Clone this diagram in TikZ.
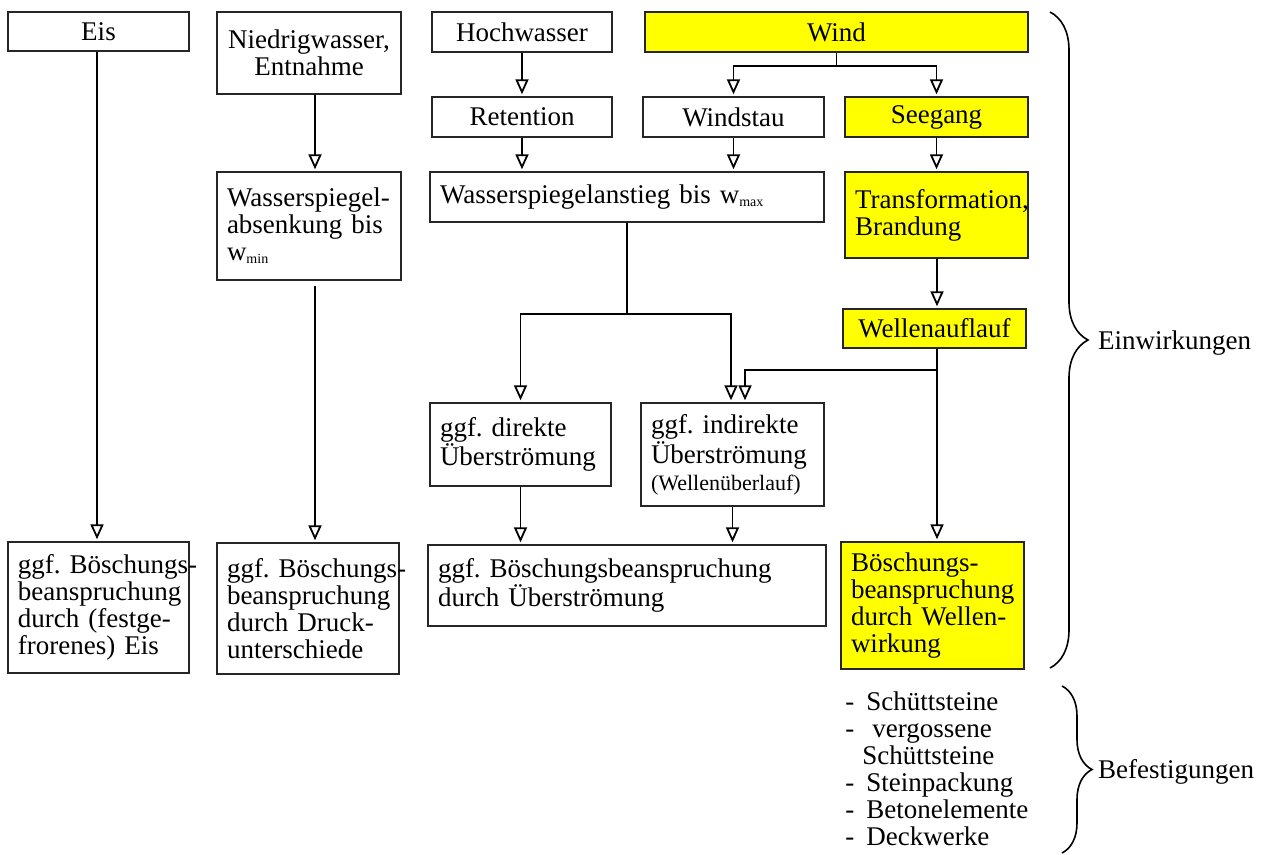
\documentclass[tikz,border=0pt]{standalone}
\usepackage{fontspec}
\setmainfont{Liberation Serif}
\usetikzlibrary{arrows.meta, decorations.pathreplacing}
\definecolor{windc}{HTML}{FFFF00}
\definecolor{framec}{HTML}{262626}
\hyphenpenalty=10000
\exhyphenpenalty=10000
\frenchspacing

\begin{document}
\begin{tikzpicture}[x=0.5pt, y=-0.5pt, font=\fontsize{13.5}{13.5}\selectfont,
    box/.style={draw=framec, line width=0.7pt, inner xsep=5pt, inner ysep=2pt, align=center},
    lbox/.style={box, align=left},
    yel/.style={fill=windc},
    flow/.style={line width=0.9pt, -{Triangle[open, length=7.5pt, width=6.5pt]}, shorten >=1pt},
    brc/.style={line width=0.8pt, decorate, decoration={brace, amplitude=#1}}]
    \useasboundingbox (0,0) rectangle (1266,855);
    % top row
    \node[box, minimum width=90.5pt, minimum height=19.5pt] (eis) at (98.5,31.5) {Eis};
    \node[box, minimum width=92pt, minimum height=41pt] (niedrig) at (309,53) {Niedrigwasser,\\Entnahme};
    \node[box, minimum width=90pt, minimum height=20pt] (hoch) at (522,32) {Hochwasser};
    \node[box, yel, minimum width=191.5pt, minimum height=20pt] (wind) at (836.5,32) {Wind};
    % second row
    \node[box, minimum width=90pt, minimum height=20pt] (ret) at (522,117) {Retention};
    \node[box, minimum width=90.5pt, minimum height=20pt] (stau) at (733.5,117) {Windstau};
    \node[box, yel, minimum width=91.5pt, minimum height=20pt] (seeg) at (936.5,117) {Seegang};
    % water levels
    \node[lbox, text width=82pt, minimum height=54pt] (absenk) at (309,226)
      {Wasserspiegel-\\absenkung bis\\w\raisebox{-1.5pt}{\fontsize{7}{7}\selectfont min}};
    \node[lbox, text width=187pt, minimum height=25pt] (anstieg) at (627,197)
      {Wasserspiegelanstieg bis w\raisebox{-1.5pt}{\fontsize{7}{7}\selectfont max}};
    \node[lbox, yel, text width=81.5pt, minimum height=43pt] (trans) at (936.5,215) {Transformation,\\Brandung};
    \node[box, yel, minimum width=91.5pt, minimum height=19.5pt] (welle) at (934.5,328.5) {Wellenauflauf};
    % overtopping
    \node[lbox, text width=80.5pt, minimum height=41.5pt] (direkt) at (520.5,444.5) {ggf. direkte\\Überströmung};
    \node[lbox, text width=81.5pt, minimum height=51.5pt] (indir) at (732.5,454.5)
      {ggf. indirekte\\Überströmung\\{\fontsize{11}{12}\selectfont (Wellenüberlauf)}};
    % bottom row
    \node[lbox, text width=80.5pt, minimum height=65.5pt] (boeEis) at (98.5,607.5)
      {ggf.~Böschungs-\\beanspruchung\\durch (festge-\\frorenes) Eis};
    \node[lbox, text width=81pt, minimum height=65.5pt] (boeDruck) at (308,608.5)
      {ggf.~Böschungs-\\beanspruchung\\durch Druck-\\unterschiede};
    \node[lbox, text width=189pt, minimum height=40.5pt] (boeUeber) at (627,585.5)
      {ggf. Böschungsbeanspruchung\\durch Überströmung};
    \node[lbox, yel, text width=81.5pt, minimum height=63.5pt] (boeWelle) at (932.5,605.5)
      {Böschungs-\\beanspruchung\\durch Wellen-\\wirkung};

    % connectors
    \coordinate (cola) at (97,0);
    \coordinate (colb) at (315,0);
    \coordinate (colw) at (937,0);
    \draw[flow] (eis.south -| cola) -- (boeEis.north -| cola);
    \draw[flow] (niedrig.south -| colb) -- (absenk.north -| colb);
    \draw[flow, shorten <=2.5pt] (absenk.south -| colb) -- (boeDruck.north -| colb);
    \draw[flow] (hoch) -- (ret);
    \draw[flow] (wind.south) -- ++(0,13) -| (stau.north);
    \draw[flow] (wind.south) -- ++(0,13) -| (seeg.north);
    \draw[flow] (ret.south) -- (ret.south |- anstieg.north);
    \draw[flow] (stau.south) -- (stau.south |- anstieg.north);
    \draw[flow] (seeg.south) -- (trans.north);
    \draw[flow] (trans.south -| colw) -- (welle.north -| colw);
    \draw[flow] (anstieg.south) -- ++(0,91) -| (direkt.north);
    \draw[flow] (anstieg.south) -- ++(0,91) -| ([xshift=-0.75pt]indir.north);
    \draw[flow] (welle.south -| colw) -- ++(0,21) -| ([xshift=6.25pt]indir.north);
    \draw[flow] (welle.south -| colw) -- (boeWelle.north -| colw);
    \draw[flow] (direkt.south) -- (direkt.south |- boeUeber.north);
    \draw[flow] (indir.south) -- (indir.south |- boeUeber.north);

    % braces
    \draw[brc=19pt] (1050,12) -- (1050,668);
    \node[anchor=west] (einw) at (1091,343) {Einwirkungen};
    \node[anchor=north west, align=left, inner sep=0pt] (befliste) at (845,691)
      {\makebox[10.5pt][l]{-}Schüttsteine\\
       \makebox[13.5pt][l]{-}vergossene\\
       \hspace*{8.5pt}Schüttsteine\\
       \makebox[10.5pt][l]{-}Steinpackung\\
       \makebox[10.5pt][l]{-}Betonelemente\\
       \makebox[10.5pt][l]{-}Deckwerke};
    \draw[brc=15pt] (1062,686) -- (1062,853);
    \node[anchor=west] (befest) at (1091,772) {Befestigungen};
\end{tikzpicture}
\end{document}
